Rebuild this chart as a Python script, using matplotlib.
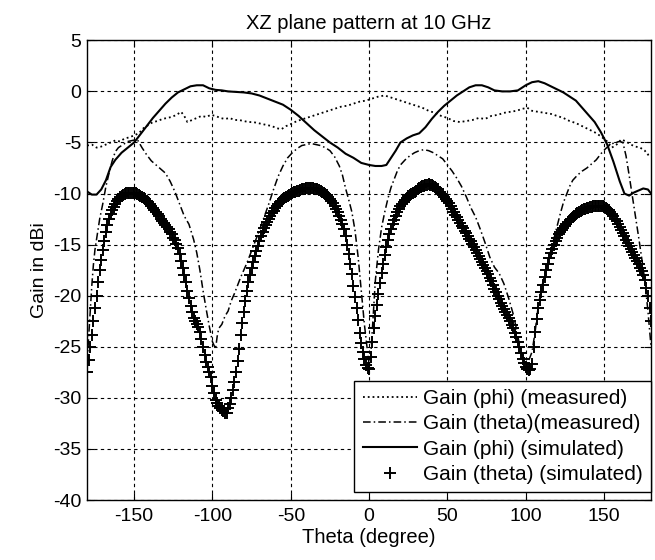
import matplotlib
matplotlib.use('Agg')
import matplotlib.pyplot as plt
import numpy as np

plt.rcParams['font.family'] = ['Liberation Sans', 'DejaVu Sans']
plt.rcParams['axes.unicode_minus'] = False

# Gain (phi) (simulated) - solid
phi_sim_x = [-180, -177, -174, -171, -168, -165, -162, -158, -154, -150, -146, -142, -138, -134,
             -130, -126, -122, -118, -114, -110, -106, -102, -98, -94, -90, -85, -80, -75, -70,
             -65, -60, -55, -50, -45, -40, -35, -30, -25, -20, -15, -10, -5, 0, 4, 8, 11, 14, 17,
             20, 24, 28, 32, 36, 40, 44, 48, 52, 56, 60, 64, 68, 72, 76, 80, 85, 90, 95, 100, 104,
             108, 112, 116, 120, 124, 128, 132, 136, 140, 144, 148, 152, 156, 160, 163, 166, 169,
             172, 175, 178, 180]
phi_sim_y = [-9.8, -10.1, -10.1, -9.6, -8.7, -7.4, -6.7, -6.0, -5.5, -5.0, -4.2, -3.4, -2.6, -1.9,
             -1.2, -0.6, -0.1, 0.2, 0.5, 0.6, 0.6, 0.3, 0.15, 0.1, 0.0, -0.05, -0.1, -0.2, -0.4,
             -0.7, -1.0, -1.3, -1.8, -2.4, -3.1, -3.8, -4.4, -5.0, -5.5, -6.1, -6.5, -7.0, -7.2,
             -7.3, -7.3, -7.2, -6.5, -5.8, -5.0, -4.6, -4.3, -4.1, -3.5, -2.7, -2.0, -1.4, -0.9,
             -0.4, 0.0, 0.4, 0.6, 0.6, 0.4, 0.1, 0.0, 0.0, 0.1, 0.6, 0.9, 1.0, 0.8, 0.5, 0.2,
             -0.1, -0.5, -0.9, -1.6, -2.3, -3.0, -4.0, -5.2, -6.9, -8.8, -10.0, -10.2, -9.9, -9.7,
             -9.5, -9.6, -10.0]

# Gain (phi) (measured) - dotted
phi_meas_x = [-180, -177, -174, -171, -168, -165, -162, -159, -156, -153, -150, -147, -144, -141,
              -138, -135, -132, -129, -126, -123, -120, -118, -116, -113, -110, -107, -104, -101,
              -98, -95, -92, -89, -86, -83, -80, -77, -74, -71, -68, -65, -62, -59, -56, -53, -50,
              -46, -42, -38, -34, -30, -26, -22, -18, -14, -10, -6, -2, 2, 6, 10, 14, 18, 22, 26,
              30, 34, 38, 42, 46, 50, 54, 58, 62, 66, 70, 74, 78, 82, 86, 90, 94, 98, 101, 104,
              108, 112, 116, 120, 124, 128, 132, 136, 140, 144, 148, 152, 155, 158, 161, 164, 167,
              170, 173, 176, 178, 180]
phi_meas_y = [-5.3, -5.2, -5.5, -5.4, -5.2, -5.0, -4.8, -4.9, -4.6, -4.5, -4.3, -4.1, -3.6, -3.3,
              -3.0, -2.9, -2.7, -2.6, -2.5, -2.3, -2.0, -2.4, -3.0, -2.8, -2.6, -2.4, -2.5, -2.3,
              -2.4, -2.6, -2.7, -2.6, -2.8, -2.8, -2.9, -3.0, -3.0, -3.1, -3.2, -3.3, -3.4, -3.6,
              -3.7, -3.4, -3.2, -2.9, -2.7, -2.5, -2.3, -2.1, -1.9, -1.7, -1.5, -1.4, -1.2, -1.0,
              -0.9, -0.7, -0.5, -0.4, -0.6, -0.8, -1.0, -1.2, -1.4, -1.6, -1.9, -2.1, -2.4, -2.6,
              -2.9, -3.0, -2.9, -2.8, -2.6, -2.7, -2.4, -2.3, -2.1, -2.0, -1.9, -1.7, -1.6, -1.9,
              -2.0, -2.1, -2.2, -2.4, -2.6, -2.9, -3.1, -3.4, -3.7, -4.0, -4.4, -4.9, -5.5, -5.2,
              -4.7, -4.9, -5.2, -5.4, -5.5, -5.8, -6.2, -6.0]

# Gain (theta) (measured) - dash-dot
theta_meas_x = [-180, -179, -178, -177, -176, -175, -174, -172, -170, -168, -166, -164, -162, -160,
                -157, -154, -151, -148, -145, -142, -139, -136, -133, -130, -127, -124, -121, -118,
                -115, -112, -110, -108, -106, -104, -102, -100, -98, -97, -96, -94, -92, -90, -88,
                -86, -84, -82, -80, -78, -76, -73, -70, -67, -64, -61, -58, -55, -52, -49, -46,
                -43, -40, -37, -34, -31, -28, -25, -22, -19, -17, -15, -13, -11, -9, -7, -5, -3,
                -1, 0, 1, 2, 3, 4, 6, 8, 10, 12, 14, 16, 18, 20, 23, 26, 29, 32, 35, 38, 41, 44,
                47, 50, 53, 56, 59, 62, 65, 68, 71, 74, 77, 80, 83, 86, 89, 92, 94, 96, 98, 100,
                102, 104, 106, 108, 110, 112, 114, 116, 118, 120, 122, 124, 126, 128, 130, 133,
                136, 139, 142, 145, 148, 151, 154, 157, 160, 162, 164, 166, 168, 170, 172, 174,
                176, 178, 180]
theta_meas_y = [-26.5, -24, -21.5, -19, -17, -15.5, -14.5, -12.5, -11, -9.3, -8, -6.8, -5.9, -5.5,
                -5.2, -4.9, -4.8, -4.7, -5.5, -6.2, -6.8, -7.2, -7.6, -8.0, -8.8, -9.8, -11.0,
                -12.2, -13.0, -14.5, -15.8, -17.5, -19.5, -21.3, -23, -24.5, -25.2, -24.0, -23.2,
                -22.8, -22.0, -21.5, -20.5, -19.8, -19.0, -18.2, -17.5, -16.8, -16.0, -14.8, -13.6,
                -12.3, -11, -9.6, -8.3, -7.3, -6.5, -6.0, -5.6, -5.3, -5.2, -5.1, -5.2, -5.3, -5.5,
                -5.8, -6.4, -7.3, -8.2, -9.5, -10.6, -11.8, -13.6, -16.2, -19.5, -22.8, -25.5,
                -26.8, -26, -23.5, -21, -18.5, -15.5, -13.3, -11.8, -10.5, -9.4, -8.6, -7.8, -7.2,
                -6.7, -6.3, -6.0, -5.8, -5.7, -5.8, -6.0, -6.3, -6.6, -7.2, -7.8, -8.5, -9.3,
                -10.3, -11.4, -12.3, -13.5, -14.8, -16.2, -17.2, -17.8, -18.8, -20.2, -21.8, -23.2,
                -24.8, -26, -26.5, -26.3, -25.5, -23.5, -21, -19.3, -18, -16.8, -15.6, -14.4,
                -13.2, -12, -10.9, -10.1, -9.3, -8.7, -8.2, -7.8, -7.5, -7.1, -6.7, -6.1, -5.6,
                -5.2, -5.0, -4.9, -5.0, -6.3, -8.2, -10.2, -12.2, -14.2, -16.3, -18.5, -21.5, -25]

# Gain (theta) (simulated) - plus markers, one per degree
theta_sim_x = np.arange(-180, 181, 1)
theta_sim_y = [
    -27.5, -26.3, -25.0, -23.8, -22.5, -21.2, -20.0, -18.7, -17.5, -16.5,   # -180
    -15.5, -14.6, -13.8, -13.1, -12.5, -12.0, -11.6, -11.3, -11.0, -10.7,   # -170
    -10.5, -10.3, -10.2, -10.1, -10.0, -9.95, -9.9, -9.9, -9.9, -9.9,       # -160
    -9.9, -9.95, -10.0, -10.1, -10.2, -10.3, -10.4, -10.5, -10.7, -10.8,    # -150
    -11.0, -11.2, -11.4, -11.6, -11.8, -12.0, -12.2, -12.5, -12.7, -12.9,   # -140
    -13.1, -13.3, -13.5, -13.8, -14.0, -14.3, -14.5, -14.9, -15.3, -15.9,   # -130
    -16.6, -17.3, -18.0, -18.7, -19.5, -20.2, -21.0, -21.6, -22.2, -22.5,   # -120
    -22.8, -23.1, -23.5, -24.2, -25.0, -25.8, -26.5, -27.0, -27.5, -28.0,   # -110
    -28.8, -29.5, -30.2, -30.5, -30.8, -31.0, -31.2, -31.3, -31.5, -31.5,   # -100
    -31.0, -30.6, -30.0, -29.2, -28.4, -27.5, -26.4, -25.2, -23.8, -22.7,   # -90
    -21.6, -20.5, -19.5, -18.7, -18.0, -17.3, -16.7, -16.1, -15.6, -15.1,   # -80
    -14.6, -14.2, -13.8, -13.4, -13.1, -12.8, -12.5, -12.2, -11.9, -11.7,   # -70
    -11.4, -11.2, -11.0, -10.8, -10.7, -10.5, -10.4, -10.3, -10.2, -10.1,   # -60
    -10.0, -9.9, -9.85, -9.8, -9.75, -9.7, -9.65, -9.6, -9.6, -9.55,        # -50
    -9.5, -9.5, -9.5, -9.5, -9.5, -9.55, -9.6, -9.6, -9.65, -9.7,           # -40
    -9.8, -9.9, -10.0, -10.1, -10.3, -10.5, -10.7, -10.9, -11.2, -11.5,     # -30
    -11.8, -12.2, -12.6, -13.0, -13.5, -14.2, -15.0, -15.9, -16.9, -17.9,   # -20
    -19.0, -20.1, -21.2, -22.4, -23.6, -24.6, -25.5, -26.2, -26.8, -27.1,   # -10
    -27.2, -26.0, -24.5, -23.2, -22.0, -20.9, -19.8, -18.8, -17.8, -16.9,   # 0
    -16.0, -15.2, -14.5, -14.0, -13.5, -13.0, -12.6, -12.2, -11.8, -11.5,   # 10
    -11.2, -11.0, -10.8, -10.6, -10.4, -10.25, -10.1, -10.0, -9.9, -9.8,    # 20
    -9.7, -9.6, -9.5, -9.4, -9.3, -9.25, -9.2, -9.15, -9.1, -9.15,          # 30
    -9.2, -9.3, -9.4, -9.5, -9.6, -9.8, -10.0, -10.15, -10.3, -10.5,        # 40
    -10.7, -10.95, -11.2, -11.5, -11.8, -12.05, -12.3, -12.6, -12.9, -13.15,  # 50
    -13.4, -13.65, -13.9, -14.15, -14.4, -14.65, -14.9, -15.2, -15.5, -15.8,  # 60
    -16.1, -16.4, -16.7, -17.0, -17.3, -17.6, -17.9, -18.25, -18.6, -18.95,   # 70
    -19.3, -19.65, -20.0, -20.35, -20.7, -21.0, -21.3, -21.6, -21.9, -22.2,   # 80
    -22.5, -22.85, -23.2, -23.6, -24.0, -24.5, -25.0, -25.6, -26.2, -26.6,    # 90
    -27.0, -27.2, -27.3, -27.2, -26.7, -25.0, -23.5, -22.3, -21.2, -20.4,     # 100
    -19.6, -18.9, -18.2, -17.5, -16.9, -16.3, -15.8, -15.4, -15.0, -14.6,     # 110
    -14.3, -14.0, -13.8, -13.6, -13.4, -13.2, -13.0, -12.8, -12.6, -12.45,    # 120
    -12.3, -12.15, -12.0, -11.9, -11.8, -11.7, -11.6, -11.55, -11.5, -11.45,  # 130
    -11.4, -11.35, -11.3, -11.25, -11.2, -11.2, -11.2, -11.2, -11.2, -11.25,  # 140
    -11.3, -11.4, -11.5, -11.65, -11.8, -12.0, -12.2, -12.45, -12.7, -13.0,   # 150
    -13.3, -13.6, -13.9, -14.2, -14.5, -14.8, -15.1, -15.4, -15.7, -16.0,     # 160
    -16.3, -16.6, -16.9, -17.25, -17.6, -18.0, -18.5, -19.2, -20.0, -21.2,    # 170
    -22.5,                                                                    # 180
]

x_ticks = [-150, -100, -50, 0, 50, 100, 150]
y_ticks = [5, 0, -5, -10, -15, -20, -25, -30, -35, -40]

fig = plt.figure(figsize=(6.55, 5.6), dpi=100)
ax = fig.add_axes([0.133, 0.107, 0.861, 0.821])

ax.plot(phi_meas_x, phi_meas_y, color='black', linestyle=':', linewidth=1.3,
        label='Gain (phi) (measured)')
ax.plot(theta_meas_x, theta_meas_y, color='black', linestyle='-.', linewidth=1.1,
        dashes=(5, 2, 1, 2), label='Gain (theta)(measured)')
ax.plot(phi_sim_x, phi_sim_y, color='black', linestyle='-', linewidth=1.5,
        label='Gain (phi) (simulated)')
ax.plot(theta_sim_x, theta_sim_y, color='black', linestyle='none', marker='+',
        markersize=9, markeredgewidth=1.4, label='Gain (theta) (simulated)')

ax.set_xlim(-180, 180)
ax.set_ylim(-40, 5)
ax.set_xticks(x_ticks)
ax.set_yticks(y_ticks)
ax.tick_params(direction='in', top=True, right=True, labelsize=14, length=5)
ax.tick_params(axis='x', pad=6)
ax.tick_params(axis='y', pad=4)
ax.grid(True, color='black', linestyle=(0, (3, 3)), linewidth=0.8)

ax.set_title('XZ plane pattern at 10 GHz', fontsize=14.5, pad=8)
ax.set_xlabel('Theta (degree)', fontsize=14.5, labelpad=2)
ax.set_ylabel('Gain in dBi', fontsize=14, labelpad=4)

leg = ax.legend(loc='lower right', bbox_to_anchor=(1.0, 0.017), borderaxespad=0,
                fontsize=15, frameon=True, fancybox=False, edgecolor='black', framealpha=1,
                handlelength=2.6, handletextpad=0.3, labelspacing=0.3, borderpad=0.4)
leg.get_frame().set_linewidth(1.0)

for s in ax.spines.values():
    s.set_linewidth(1.0)

fig.savefig('out.png', dpi=100)
